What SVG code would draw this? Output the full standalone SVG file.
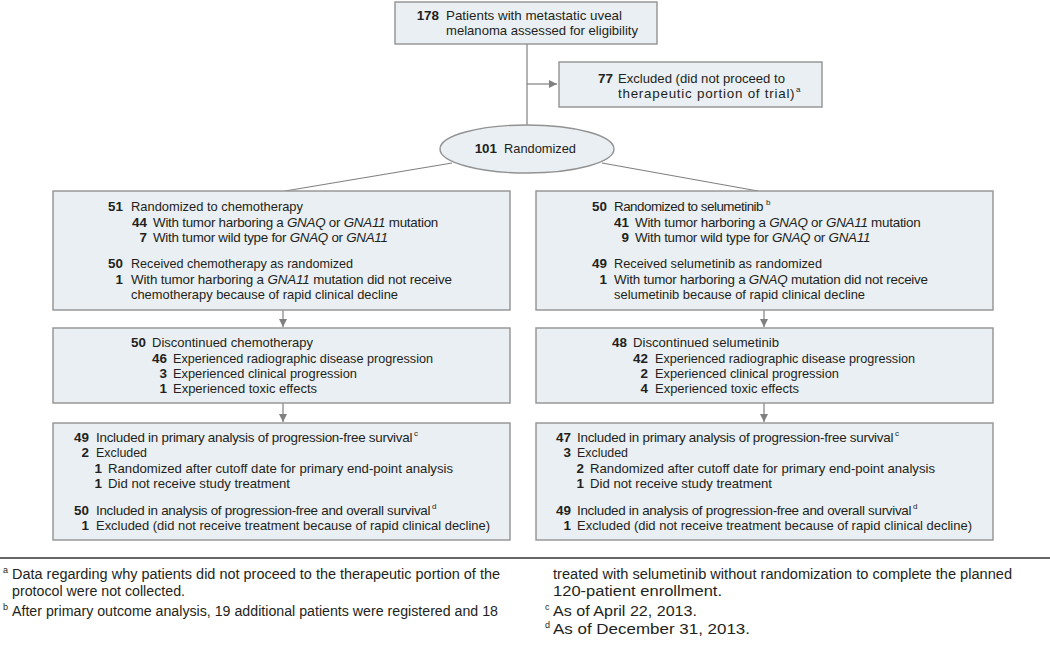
<svg xmlns="http://www.w3.org/2000/svg" width="1050" height="657" viewBox="0 0 1050 657">
<style>
.box{fill:#eaeff3;stroke:#929292;stroke-width:1.4}
.t{font-family:"Liberation Sans",Arial,sans-serif;font-size:13.4px;fill:#231f20}
.n{font-weight:bold;text-anchor:end}
.i{font-style:italic}
.sup{font-family:"Liberation Sans",Arial,sans-serif;font-size:8px;fill:#231f20}
.fn{font-family:"Liberation Sans",Arial,sans-serif;font-size:14px;fill:#231f20}
.fs{font-family:"Liberation Sans",Arial,sans-serif;font-size:9px;fill:#231f20}
.c{fill:none;stroke:#808080;stroke-width:1.2}
</style>
<defs>
<marker id="ah" markerUnits="userSpaceOnUse" markerWidth="10" markerHeight="10" refX="8" refY="5" orient="auto">
<path d="M0,1 L8,5 L0,9 Z" fill="#808080"/>
</marker>
</defs>
<rect width="1050" height="657" fill="#ffffff"/>

<g id="connectors">
<path class="c" d="M527,44 V125"/>
<path class="c" d="M527,84 H557" marker-end="url(#ah)"/>
<path class="c" d="M452,163 L285,191"/>
<path class="c" d="M602,163 L758,191"/>
<path class="c" d="M283,310 V327" marker-end="url(#ah)"/>
<path class="c" d="M283,403 V422" marker-end="url(#ah)"/>
<path class="c" d="M764,310 V327" marker-end="url(#ah)"/>
<path class="c" d="M764,403 V422" marker-end="url(#ah)"/>
</g>

<g id="assessed">
<rect class="box" x="395" y="2" width="262" height="42"/>
<text class="t n" x="439" y="20">178</text>
<text class="t" x="446" y="20" textLength="176" lengthAdjust="spacingAndGlyphs">Patients with metastatic uveal</text>
<text class="t" x="446" y="35" textLength="192" lengthAdjust="spacingAndGlyphs">melanoma assessed for eligibility</text>
</g>

<g id="excluded">
<rect class="box" x="559" y="62" width="263" height="45"/>
<text class="t n" x="613" y="83">77</text>
<text class="t" x="618" y="83" textLength="167" lengthAdjust="spacingAndGlyphs">Excluded (did not proceed to</text>
<text class="t" x="618" y="98" letter-spacing="0.75">therapeutic portion of trial)</text>
<text class="sup" x="796" y="92">a</text>
</g>

<g id="randomized">
<ellipse class="box" cx="527" cy="149" rx="87" ry="24"/>
<text class="t n" x="497" y="153">101</text>
<text class="t" x="504" y="153" textLength="72" lengthAdjust="spacingAndGlyphs">Randomized</text>
</g>

<g id="chemo-randomized">
<rect class="box" x="53" y="191" width="457" height="119"/>
<text class="t n" x="123" y="211">51</text>
<text class="t" x="131" y="211" textLength="172" lengthAdjust="spacingAndGlyphs">Randomized to chemotherapy</text>
<text class="t n" x="147" y="227">44</text>
<text class="t" x="153" y="227" letter-spacing="-0.26">With tumor harboring a <tspan class="i">GNAQ</tspan> or <tspan class="i">GNA11</tspan> mutation</text>
<text class="t n" x="147" y="242">7</text>
<text class="t" x="153" y="242" letter-spacing="-0.28">With tumor wild type for <tspan class="i">GNAQ</tspan> or <tspan class="i">GNA11</tspan></text>
<text class="t n" x="123" y="268">50</text>
<text class="t" x="131" y="268" textLength="222" lengthAdjust="spacingAndGlyphs">Received chemotherapy as randomized</text>
<text class="t n" x="123" y="284">1</text>
<text class="t" x="131" y="284" letter-spacing="-0.15">With tumor harboring a <tspan class="i">GNA11</tspan> mutation did not receive</text>
<text class="t" x="131" y="299" textLength="267" lengthAdjust="spacingAndGlyphs">chemotherapy because of rapid clinical decline</text>
</g>

<g id="selu-randomized">
<rect class="box" x="536" y="191" width="457" height="119"/>
<text class="t n" x="607" y="211">50</text>
<text class="t" x="614" y="211" letter-spacing="-0.5">Randomized to selumetinib</text>
<text class="sup" x="766" y="205">b</text>
<text class="t n" x="629" y="227">41</text>
<text class="t" x="635" y="227" letter-spacing="-0.25">With tumor harboring a <tspan class="i">GNAQ</tspan> or <tspan class="i">GNA11</tspan> mutation</text>
<text class="t n" x="629" y="242">9</text>
<text class="t" x="635" y="242" letter-spacing="-0.27">With tumor wild type for <tspan class="i">GNAQ</tspan> or <tspan class="i">GNA11</tspan></text>
<text class="t n" x="607" y="268">49</text>
<text class="t" x="614" y="268" textLength="208" lengthAdjust="spacingAndGlyphs">Received selumetinib as randomized</text>
<text class="t n" x="607" y="284">1</text>
<text class="t" x="614" y="284" letter-spacing="-0.22">With tumor harboring a <tspan class="i">GNAQ</tspan> mutation did not receive</text>
<text class="t" x="614" y="299" textLength="251" lengthAdjust="spacingAndGlyphs">selumetinib because of rapid clinical decline</text>
</g>

<g id="chemo-discontinued">
<rect class="box" x="53" y="328" width="457" height="75"/>
<text class="t n" x="146" y="347">50</text>
<text class="t" x="152" y="347" textLength="161" lengthAdjust="spacingAndGlyphs">Discontinued chemotherapy</text>
<text class="t n" x="167" y="363">46</text>
<text class="t" x="173" y="363" textLength="260" lengthAdjust="spacingAndGlyphs">Experienced radiographic disease progression</text>
<text class="t n" x="167" y="378">3</text>
<text class="t" x="173" y="378" textLength="184" lengthAdjust="spacingAndGlyphs">Experienced clinical progression</text>
<text class="t n" x="167" y="393">1</text>
<text class="t" x="173" y="393" textLength="144" lengthAdjust="spacingAndGlyphs">Experienced toxic effects</text>
</g>

<g id="selu-discontinued">
<rect class="box" x="536" y="328" width="457" height="75"/>
<text class="t n" x="627" y="347">48</text>
<text class="t" x="633" y="347" textLength="146" lengthAdjust="spacingAndGlyphs">Discontinued selumetinib</text>
<text class="t n" x="648" y="363">42</text>
<text class="t" x="655" y="363" textLength="260" lengthAdjust="spacingAndGlyphs">Experienced radiographic disease progression</text>
<text class="t n" x="648" y="378">2</text>
<text class="t" x="655" y="378" textLength="184" lengthAdjust="spacingAndGlyphs">Experienced clinical progression</text>
<text class="t n" x="648" y="393">4</text>
<text class="t" x="655" y="393" textLength="144" lengthAdjust="spacingAndGlyphs">Experienced toxic effects</text>
</g>

<g id="chemo-analysis">
<rect class="box" x="53" y="423" width="457" height="117"/>
<text class="t n" x="89" y="442">49</text>
<text class="t" x="96" y="442" letter-spacing="-0.25">Included in primary analysis of progression-free survival</text>
<text class="sup" x="414" y="436">c</text>
<text class="t n" x="89" y="457">2</text>
<text class="t" x="96" y="457" textLength="51" lengthAdjust="spacingAndGlyphs">Excluded</text>
<text class="t n" x="102" y="473">1</text>
<text class="t" x="108" y="473" textLength="345" lengthAdjust="spacingAndGlyphs">Randomized after cutoff date for primary end-point analysis</text>
<text class="t n" x="102" y="488">1</text>
<text class="t" x="108" y="488" textLength="182" lengthAdjust="spacingAndGlyphs">Did not receive study treatment</text>
<text class="t n" x="89" y="515">50</text>
<text class="t" x="96" y="515" letter-spacing="-0.28">Included in analysis of progression-free and overall survival</text>
<text class="sup" x="432" y="509">d</text>
<text class="t n" x="89" y="530">1</text>
<text class="t" x="96" y="530" textLength="394" lengthAdjust="spacingAndGlyphs">Excluded (did not receive treatment because of rapid clinical decline)</text>
</g>

<g id="selu-analysis">
<rect class="box" x="536" y="423" width="457" height="117"/>
<text class="t n" x="571" y="442">47</text>
<text class="t" x="577" y="442" letter-spacing="-0.25">Included in primary analysis of progression-free survival</text>
<text class="sup" x="895" y="436">c</text>
<text class="t n" x="571" y="457">3</text>
<text class="t" x="577" y="457" textLength="51" lengthAdjust="spacingAndGlyphs">Excluded</text>
<text class="t n" x="584" y="473">2</text>
<text class="t" x="590" y="473" textLength="345" lengthAdjust="spacingAndGlyphs">Randomized after cutoff date for primary end-point analysis</text>
<text class="t n" x="584" y="488">1</text>
<text class="t" x="590" y="488" textLength="182" lengthAdjust="spacingAndGlyphs">Did not receive study treatment</text>
<text class="t n" x="571" y="515">49</text>
<text class="t" x="577" y="515" letter-spacing="-0.28">Included in analysis of progression-free and overall survival</text>
<text class="sup" x="913" y="509">d</text>
<text class="t n" x="571" y="530">1</text>
<text class="t" x="577" y="530" textLength="395" lengthAdjust="spacingAndGlyphs">Excluded (did not receive treatment because of rapid clinical decline)</text>
</g>

<g id="footnotes">
<line x1="0" y1="558" x2="1050" y2="558" stroke="#333333" stroke-width="1.5"/>
<text class="fs" x="3" y="573">a</text>
<text class="fn" x="12" y="579" textLength="488" lengthAdjust="spacingAndGlyphs">Data regarding why patients did not proceed to the therapeutic portion of the</text>
<text class="fn" x="12" y="596" textLength="173" lengthAdjust="spacingAndGlyphs">protocol were not collected.</text>
<text class="fs" x="3" y="610">b</text>
<text class="fn" x="12" y="616" textLength="486" lengthAdjust="spacingAndGlyphs">After primary outcome analysis, 19 additional patients were registered and 18</text>
<text class="fn" x="553" y="579" textLength="459" lengthAdjust="spacingAndGlyphs">treated with selumetinib without randomization to complete the planned</text>
<text class="fn" x="553" y="596" textLength="169" lengthAdjust="spacingAndGlyphs">120-patient enrollment.</text>
<text class="fs" x="545" y="610">c</text>
<text class="fn" x="553" y="616" textLength="144" lengthAdjust="spacingAndGlyphs">As of April 22, 2013.</text>
<text class="fs" x="545" y="628">d</text>
<text class="fn" x="553" y="634" textLength="197" lengthAdjust="spacingAndGlyphs">As of December 31, 2013.</text>
</g>
</svg>
